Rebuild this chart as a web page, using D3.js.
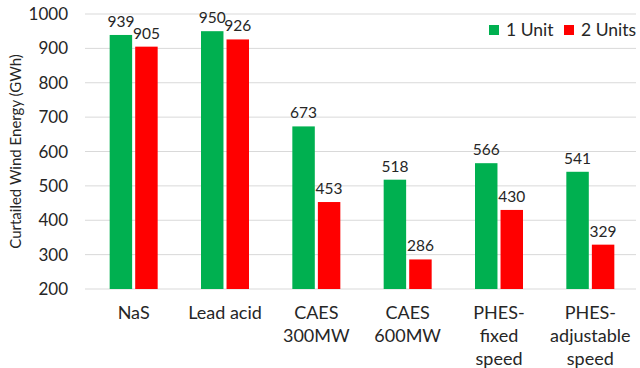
<!DOCTYPE html>
<html><head><meta charset="utf-8">
<script src="https://cdn.jsdelivr.net/npm/d3@7"></script>
<style>body{margin:0;background:#fff}svg{display:block}</style>
</head><body>
<svg id="c" width="640" height="368"></svg>
<script>
const categories = [["NaS"],["Lead acid"],["CAES","300MW"],["CAES","600MW"],["PHES-","fixed","speed"],["PHES-","adjustable","speed"]];
const seriesNames = ["1 Unit","2 Units"];
const oneUnit = [939,950,673,518,566,541];
const twoUnits = [905,926,453,286,430,329];
const yTicks = [200,300,400,500,600,700,800,900,1000];
const colors = ["#00b050","#ff0000"];

const svg = d3.select("#c");
const font = "Lato, 'Open Sans', sans-serif";
const m = {l:88, r:636, t:14, b:289};
const x = d3.scaleBand().domain(d3.range(categories.length)).range([m.l, m.r]);
const xs = d3.scaleBand().domain([0,1]).range([0,48]).paddingInner(0.12);
const y = d3.scaleLinear().domain([200,1000]).range([m.b, m.t]);

// gridlines
svg.append("g").selectAll("line").data(yTicks).join("line")
  .attr("x1", m.l-3).attr("x2", m.r).attr("y1", d=>y(d)).attr("y2", d=>y(d))
  .attr("stroke", "#d9d9d9").attr("stroke-width", 1);

// y tick labels
svg.append("g").selectAll("text").data(yTicks).join("text")
  .attr("x", 68).attr("y", d=>y(d)).attr("dy","0.36em").attr("text-anchor","end")
  .attr("font-family", font).attr("font-size", 17).attr("fill","#262626").text(d=>d);

// y title
svg.append("text").attr("transform", `translate(21,${(m.t+m.b)/2}) rotate(-90)`)
  .attr("text-anchor","middle").attr("font-family", font).attr("font-size", 15)
  .attr("fill","#262626").text("Curtailed Wind Energy (GWh)");

const data = [oneUnit, twoUnits];
data.forEach((vals, s) => {
  const g = svg.append("g");
  const bx = i => x(i) + (x.bandwidth()-48)/2 + xs(s);
  g.selectAll("rect").data(vals).join("rect")
    .attr("x", (d,i)=>bx(i)).attr("width", xs.bandwidth())
    .attr("y", d=>y(d)).attr("height", d=>y(200)-y(d)).attr("fill", colors[s]);
  g.selectAll("text").data(vals).join("text")
    .attr("x", (d,i)=>bx(i)+xs.bandwidth()/2).attr("y", d=>y(d)-8)
    .attr("text-anchor","middle").attr("font-family", font).attr("font-size", 15.5)
    .attr("fill","#262626").text(d=>d);
});

// category labels
const cg = svg.append("g");
categories.forEach((lines, i) => {
  const t = cg.append("text").attr("text-anchor","middle").attr("font-family", font)
    .attr("font-size", 18).attr("fill","#262626");
  lines.forEach((ln, j) => {
    t.append("tspan").attr("x", x(i)+x.bandwidth()/2).attr("y", 319 + j*23).text(ln);
  });
});

// legend
const lg = svg.append("g");
const lx = [489, 564];
seriesNames.forEach((n, s) => {
  lg.append("rect").attr("x", lx[s]).attr("y", 25).attr("width", 10).attr("height", 10).attr("fill", colors[s]);
  lg.append("text").attr("x", lx[s]+17).attr("y", 30).attr("dy","0.36em")
    .attr("font-family", font).attr("font-size", 17.5).attr("fill","#262626").text(n);
});
</script>
</body></html>
